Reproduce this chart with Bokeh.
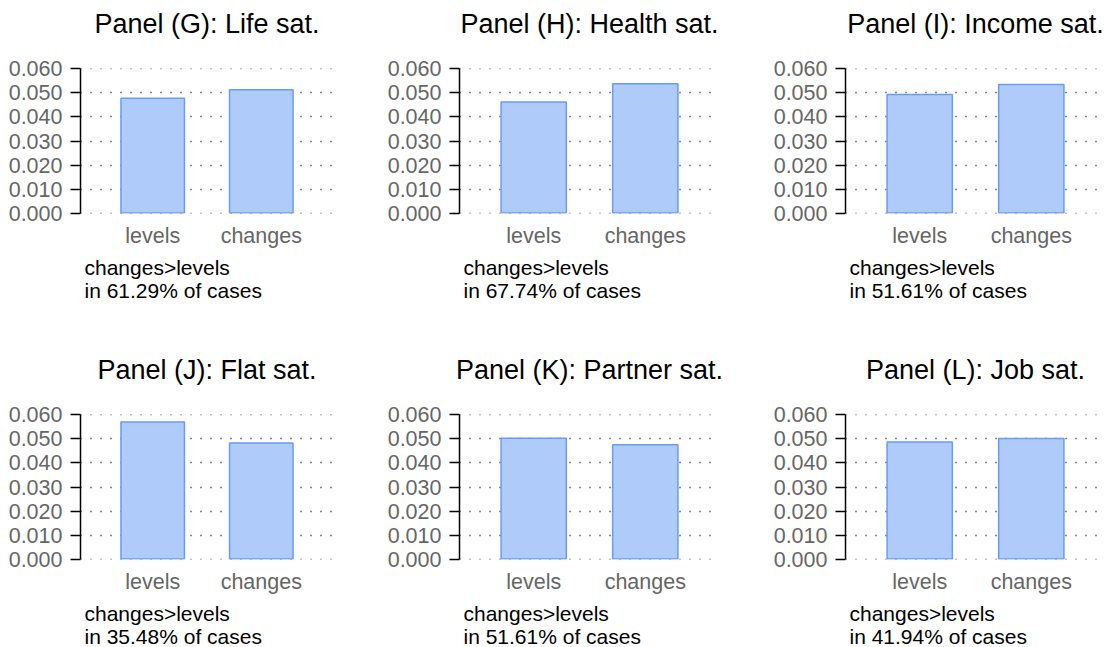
from bokeh.plotting import figure
from bokeh.layouts import column, row
from bokeh.models import FactorRange, Range1d, FixedTicker, NumeralTickFormatter, Title
from bokeh.embed import file_html
from bokeh.resources import INLINE

# Average weight given to each measurement type, per satisfaction domain
categories = ["levels", "changes"]
panel_titles = [
    "Panel (G): Life sat.",
    "Panel (H): Health sat.",
    "Panel (I): Income sat.",
    "Panel (J): Flat sat.",
    "Panel (K): Partner sat.",
    "Panel (L): Job sat.",
]
levels = [0.0478, 0.0462, 0.0494, 0.0571, 0.0503, 0.0487]
changes = [0.0513, 0.0538, 0.0535, 0.0483, 0.0476, 0.0502]
share_changes_gt_levels = ["61.29%", "67.74%", "51.61%", "35.48%", "51.61%", "41.94%"]
y_ticks = [0.0, 0.01, 0.02, 0.03, 0.04, 0.05, 0.06]

FONT = "Liberation Sans"
SMALL = "21.5px"
BAR_FILL = "#aecbfa"
BAR_LINE = "#6a9cf2"

# per-column frame widths / right borders, per-row bottom borders
frame_widths = [253, 260, 260]
right_borders = [46, 46, 4]
bottom_borders = [133, 88]


def make_panel(i):
    col, r = i % 3, i // 3
    p = figure(
        x_range=FactorRange(factors=categories, range_padding=0.165),
        y_range=Range1d(-0.0002, 0.0602),
        frame_width=frame_widths[col], frame_height=145,
        min_border_left=80, min_border_right=right_borders[col],
        min_border_top=68, min_border_bottom=bottom_borders[r],
        output_backend="svg", toolbar_location=None,
    )
    p.outline_line_color = None

    p.vbar(x=categories, top=[levels[i], changes[i]], width=0.585,
           fill_color=BAR_FILL, line_color=BAR_LINE, line_width=1.5)

    # panel heading, kept well clear of the frame by an empty second line
    p.add_layout(Title(text=panel_titles[i] + "\n", align="center", standoff=0,
                       text_font=FONT, text_font_size="27px",
                       text_font_style="normal", text_color="black",
                       text_line_height=1.0), "above")

    p.xgrid.visible = False
    p.ygrid.grid_line_color = "#111111"
    p.ygrid.grid_line_dash = "1 9"
    p.ygrid.grid_line_width = 1.5

    ya = p.yaxis[0]
    ya.ticker = FixedTicker(ticks=y_ticks)
    ya.formatter = NumeralTickFormatter(format="0.000")
    ya.axis_line_color = "black"
    ya.axis_line_width = 1.5
    ya.major_tick_line_color = "black"
    ya.major_tick_line_width = 1.5
    ya.major_tick_out = 10
    ya.major_tick_in = 0
    ya.minor_tick_out = 0
    ya.minor_tick_in = 0
    ya.major_label_standoff = 8
    ya.major_label_text_font = FONT
    ya.major_label_text_font_size = SMALL
    ya.major_label_text_color = "#666666"

    xa = p.xaxis[0]
    xa.axis_line_color = None
    xa.major_tick_line_color = None
    xa.minor_tick_line_color = None
    xa.major_label_standoff = 4
    xa.major_label_text_font = FONT
    xa.major_label_text_font_size = SMALL
    xa.major_label_text_color = "#666666"

    # two-line note under the axis
    note = "changes>levels\nin " + share_changes_gt_levels[i] + " of cases"
    p.add_layout(Title(text=note, align="left", offset=4, standoff=6,
                       text_font=FONT, text_font_size="21px",
                       text_font_style="normal", text_color="black",
                       text_line_height=1.0), "below")
    return p


panels = [make_panel(i) for i in range(6)]
layout = column(row(*panels[:3]), row(*panels[3:]))

open("out.html", "w").write(file_html(layout, INLINE))
